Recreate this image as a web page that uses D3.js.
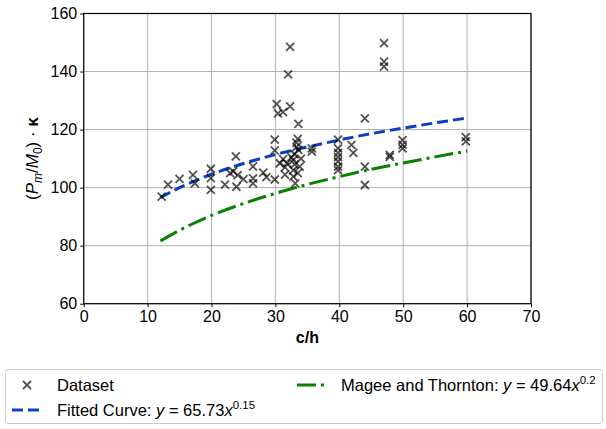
<!DOCTYPE html>
<html>
<head>
<meta charset="utf-8">
<script src="https://cdn.jsdelivr.net/npm/d3@7"></script>
<style>
body { margin: 0; background: #fff; }
svg { display: block; font-family: "Liberation Sans", Arial, sans-serif; }
</style>
</head>
<body>
<svg id="chart"></svg>
<script>
let width = 606
let height = 429

// scatter
let dataX = [12.2, 13.2, 15.0, 17.1, 17.4, 19.9, 19.9, 19.9, 22.1, 22.9, 23.4, 23.8, 23.9, 24.1, 25.0,
    26.5, 26.5, 26.5, 28.1, 28.6, 29.9, 29.9, 29.9, 30.2, 30.4, 30.7, 31.2, 31.2, 31.5, 31.5,
    31.8, 32.0, 32.3, 32.3, 32.5, 32.8, 32.8, 32.8, 33.1, 33.0, 33.3, 33.3, 33.5, 33.6, 33.6,
    33.8, 33.5, 33.0, 34.0, 35.7, 35.7, 39.8, 39.8, 39.8, 39.8, 39.8, 39.8, 39.8, 41.9, 42.2,
    44.0, 44.0, 44.0, 47.0, 47.0, 47.0, 47.9, 47.9, 49.9, 49.9, 49.9, 59.8, 59.8]
let dataY = [96.9, 101.0, 103.0, 104.4, 101.5, 106.5, 103.3, 99.2, 101.0, 105.0, 105.6, 110.8, 100.3, 104.3, 102.9,
    107.3, 103.2, 101.5, 105.2, 103.6, 102.8, 116.5, 112.8, 128.8, 125.6, 108.4, 126.0, 109.8, 107.0, 104.5,
    108.4, 139.0, 148.5, 128.0, 110.5, 109.5, 103.8, 106.0, 101.5, 111.5, 114.0, 115.5, 116.8, 122.0, 113.0,
    107.2, 105.0, 108.0, 110.0, 112.4, 113.5, 116.5, 113.5, 112.0, 110.5, 109.0, 107.2, 106.0, 114.7, 112.0,
    123.9, 107.2, 100.9, 149.8, 143.4, 141.7, 111.3, 110.6, 116.4, 114.7, 113.5, 117.4, 115.9]

// curves, values read along x
let curveX = [12, 15, 20, 25, 30, 35, 40, 45, 50, 55, 60]
let fittedY = [96.6, 100.0, 104.6, 108.3, 111.4, 114.0, 116.4, 118.6, 120.5, 122.3, 124.0]
let mageeY = [81.6, 85.3, 90.4, 94.5, 98.0, 101.1, 103.8, 106.3, 108.5, 110.6, 112.6]

let xTicks = [0, 10, 20, 30, 40, 50, 60, 70]
let yTicks = [60, 80, 100, 120, 140, 160]

let padding = { left: 83.7, right: 75, top: 13.5, bottom: 125.3 }
let blue = '#0b3fc1'
let green = '#0a8000'
let fs = 16

let svg = d3.select('#chart')
    .attr('width', width)
    .attr('height', height)

svg.append('rect').attr('width', width).attr('height', height).attr('fill', '#fff')

let x = d3.scaleLinear()
    .domain([0, 70])
    .range([padding.left, width - padding.right])
let y = d3.scaleLinear()
    .domain([60, 160])
    .range([height - padding.bottom, padding.top])

// grid
let grid = svg.append('g')
grid.selectAll('.gx').data(xTicks).enter().append('line')
    .attr('x1', d => x(d)).attr('x2', d => x(d))
    .attr('y1', padding.top).attr('y2', height - padding.bottom)
    .attr('stroke', '#b0b0b0').attr('stroke-width', 1)
grid.selectAll('.gy').data(yTicks).enter().append('line')
    .attr('y1', d => y(d)).attr('y2', d => y(d))
    .attr('x1', padding.left).attr('x2', width - padding.right)
    .attr('stroke', '#b0b0b0').attr('stroke-width', 1)

// curves
let line = d3.line()
    .x(d => x(d[0]))
    .y(d => y(d[1]))
    .curve(d3.curveMonotoneX)

svg.append('path')
    .datum(curveX.map((v, i) => [v, mageeY[i]]))
    .attr('d', line)
    .attr('fill', 'none')
    .attr('stroke', green)
    .attr('stroke-width', 3)
    .attr('stroke-dasharray', '19,5,3,5')

svg.append('path')
    .datum(curveX.map((v, i) => [v, fittedY[i]]))
    .attr('d', line)
    .attr('fill', 'none')
    .attr('stroke', blue)
    .attr('stroke-width', 3)
    .attr('stroke-dasharray', '11,5')

// points
let cross = 'M-4,-4L4,4M4,-4L-4,4'
svg.append('g')
    .selectAll('path')
    .data(dataX.map((v, i) => [v, dataY[i]]))
    .enter().append('path')
    .attr('transform', d => `translate(${x(d[0])}, ${y(d[1])})`)
    .attr('d', cross)
    .attr('stroke', '#000')
    .attr('stroke-opacity', 0.68)
    .attr('stroke-width', 1.8)
    .attr('fill', 'none')

// x axis
svg.append('g')
    .attr('transform', `translate(0, ${height - padding.bottom})`)
    .call(d3.axisBottom(x).tickValues(xTicks).tickSize(3.5).tickPadding(3))
    .attr('font-family', null)
    .attr('font-size', fs)
    .call(g => g.select('.domain').remove())
    .call(g => g.selectAll('text').attr('fill', '#000'))

// y axis
svg.append('g')
    .attr('transform', `translate(${padding.left}, 0)`)
    .call(d3.axisLeft(y).tickValues(yTicks).tickSize(3.5).tickPadding(3))
    .attr('font-family', null)
    .attr('font-size', fs)
    .call(g => g.select('.domain').remove())
    .call(g => g.selectAll('text').attr('fill', '#000'))

// frame
svg.append('rect')
    .attr('x', padding.left).attr('y', padding.top)
    .attr('width', width - padding.left - padding.right)
    .attr('height', height - padding.top - padding.bottom)
    .attr('fill', 'none').attr('stroke', '#000').attr('stroke-width', 1.2)

// axis labels
svg.append('text')
    .attr('x', (x(0) + x(70)) / 2)
    .attr('y', 343)
    .attr('text-anchor', 'middle')
    .attr('font-size', fs)
    .attr('font-weight', 'bold')
    .text('c/h')

let ylab = svg.append('text')
    .attr('transform', `translate(38, ${(y(60) + y(160)) / 2}) rotate(-90)`)
    .attr('text-anchor', 'middle')
    .attr('font-size', 17)
ylab.append('tspan').text('(')
ylab.append('tspan').attr('font-style', 'italic').text('P')
ylab.append('tspan').attr('font-style', 'italic').attr('font-size', 12).attr('dy', 4).text('m')
ylab.append('tspan').attr('dy', -4).text('/')
ylab.append('tspan').attr('font-style', 'italic').text('M')
ylab.append('tspan').attr('font-size', 12).attr('dy', 4).text('0')
ylab.append('tspan').attr('dy', -4).text(') · ')
ylab.append('tspan').attr('font-weight', 'bold').text('κ')

// legend
let lg = svg.append('g')
lg.append('rect')
    .attr('x', 5.5).attr('y', 369.5)
    .attr('width', 597).attr('height', 54)
    .attr('rx', 3)
    .attr('fill', '#fff').attr('stroke', '#cccccc').attr('stroke-width', 1)

lg.append('path')
    .attr('transform', 'translate(27, 385)')
    .attr('d', cross)
    .attr('stroke', '#000').attr('stroke-opacity', 0.68).attr('stroke-width', 1.8)
lg.append('text').attr('x', 57).attr('y', 390.5).attr('font-size', 16.5).text('Dataset')

lg.append('line')
    .attr('x1', 12).attr('x2', 42).attr('y1', 410).attr('y2', 410)
    .attr('stroke', blue).attr('stroke-width', 3).attr('stroke-dasharray', '11,5')
let t2 = lg.append('text').attr('x', 57).attr('y', 416).attr('font-size', 16.5)
t2.append('tspan').text('Fitted Curve: ')
t2.append('tspan').attr('font-style', 'italic').text('y')
t2.append('tspan').text(' = 65.73')
t2.append('tspan').attr('font-style', 'italic').text('x')
t2.append('tspan').attr('font-size', 11.5).attr('dy', -7).text('0.15')

lg.append('line')
    .attr('x1', 297).attr('x2', 327).attr('y1', 385).attr('y2', 385)
    .attr('stroke', green).attr('stroke-width', 3).attr('stroke-dasharray', '19,5,3,5')
let t3 = lg.append('text').attr('x', 341).attr('y', 390.5).attr('font-size', 16.5)
t3.append('tspan').text('Magee and Thornton: ')
t3.append('tspan').attr('font-style', 'italic').text('y')
t3.append('tspan').text(' = 49.64')
t3.append('tspan').attr('font-style', 'italic').text('x')
t3.append('tspan').attr('font-size', 11.5).attr('dy', -7).text('0.2')
</script>
</body>
</html>
